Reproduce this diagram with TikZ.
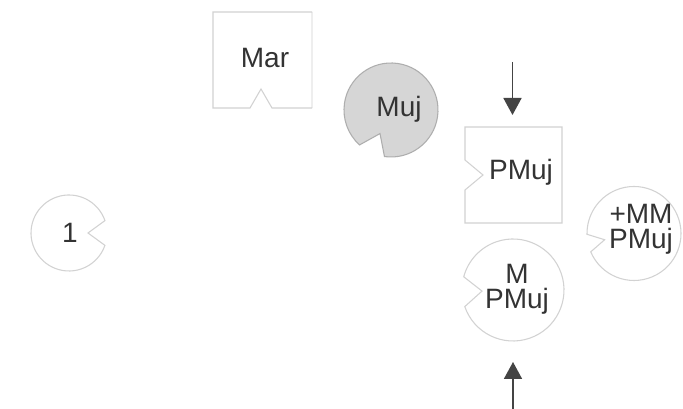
\documentclass[tikz,border=0pt]{standalone}
\usepackage{fontspec}
\setmainfont{Liberation Sans}
\usetikzlibrary{arrows.meta,calc}
\definecolor{txt}{HTML}{333333}
\definecolor{edge}{HTML}{D2D2D2}
\definecolor{edgefaint}{HTML}{EEEEEE}
\definecolor{mujfill}{HTML}{D6D6D6}
\definecolor{mujedge}{HTML}{AEAEAE}
\definecolor{arrc}{HTML}{444444}
\begin{document}
\begin{tikzpicture}[x=0.75pt,y=0.75pt,
  lbl/.style={font=\fontsize{21}{19}\selectfont, text=txt, align=center, inner sep=0pt},
  outline/.style={draw=edge, line width=0.8pt},
  hold/.style={inner sep=0pt, outer sep=0pt},
  arr/.style={draw=arrc, line width=1.3pt, -{Triangle[width=13.5pt,length=12.75pt]}}]
\useasboundingbox[fill=white] (0,0) rectangle (683,409);

% centres
\coordinate (c1) at (69,176);
\coordinate (cmuj) at (391,299);
\coordinate (cmp) at (513,119);
\coordinate (cmm) at (634,175.5);

% Mar box
\draw[draw=edgefaint, line width=0.8pt] (312,397) -- (312,301);
\draw[outline] (312,301) -- (272,301) -- (261,320) -- (250,301) -- (213,301) -- (213,397) -- (312,397);
\node[lbl] (mar) at (265,351) {Mar};

% Muj circle (filled)
\draw[draw=mujedge, fill=mujfill, line width=0.8pt]
  ($(cmuj)+(262:47)$) arc[start angle=262, end angle=588, radius=47] -- ($(cmuj)+(245:26)$) -- cycle;
\node[lbl] (muj) at (399,300) {Muj};

% PMuj box
\node[hold, minimum width=72.75pt, minimum height=72pt] (pmujbox) at (513.5,234) {};
\draw[outline] (465,282) -- (562,282) -- (562,186) -- (465,186) -- (465,219) -- (483,234) -- (465,249) -- cycle;
\node[lbl] (pmuj) at (521,237) {PMuj};

% M PMuj circle
\node[hold, circle, minimum size=76.5pt] (mpcirc) at (cmp) {};
\draw[outline] ($(cmp)+(199:51)$) arc[start angle=199, end angle=525, radius=51] -- ($(cmp)+(182:31)$) -- cycle;
\node[lbl] (mp) at (517,120) {M\\PMuj};

% +MM PMuj circle
\draw[outline] ($(cmm)+(203:47)$) arc[start angle=203, end angle=541, radius=47] -- ($(cmm)+(192:30)$) -- cycle;
\node[lbl] (mm) at (641,180) {+MM\\PMuj};

% 1 circle
\draw[outline] ($(c1)+(19:38)$) arc[start angle=19, end angle=341, radius=38] -- ($(c1)+(0:19)$) -- cycle;
\node[lbl] (one) at (70,176) {1};

% arrows
\coordinate (d0) at (512.5,347);
\coordinate (u0) at (513,0);
\draw[arr, shorten >=9pt] (d0) -- (d0 |- pmujbox.north);
\draw[arr, shorten >=15.75pt] (u0) -- (mpcirc.south);
\end{tikzpicture}
\end{document}
